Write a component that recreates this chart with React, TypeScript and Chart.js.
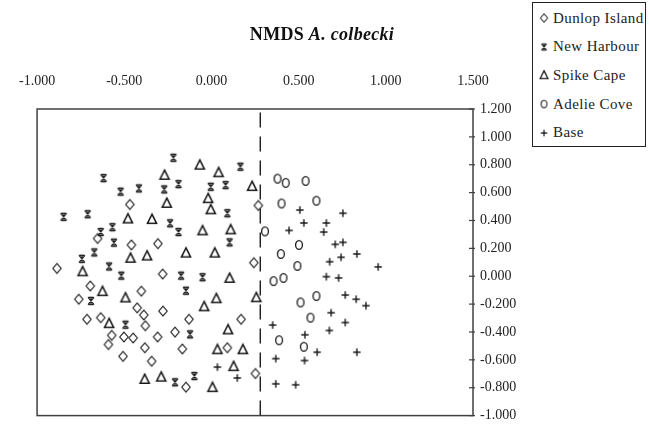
import React, { useEffect, useRef } from "react";
import { Chart, registerables } from "chart.js";

Chart.register(...registerables);

// ---- Data ----
const dunlopX = [-0.468, 0.269, -0.307, 0.243, -0.28, -0.653, -0.459, -0.886, -0.695, -0.402, -0.761, -0.426, -0.388, -0.714, -0.635, -0.379, -0.572, -0.502, -0.449, -0.591, -0.382, -0.507, -0.343, -0.278, -0.129, 0.17, -0.209, -0.309, -0.167, 0.091, 0.252, -0.146];
const dunlopY = [0.515, 0.508, 0.234, 0.097, 0.016, 0.271, 0.225, 0.056, -0.07, -0.107, -0.165, -0.227, -0.278, -0.309, -0.297, -0.355, -0.424, -0.436, -0.443, -0.49, -0.513, -0.575, -0.61, -0.25, -0.309, -0.309, -0.401, -0.436, -0.522, -0.513, -0.698, -0.796];

const harbourX = [-0.218, 0.166, -0.189, -0.004, 0.081, -0.271, 0.091, -0.237, -0.189, 0.104, -0.174, -0.051, -0.146, -0.123, -0.098, -0.209, -0.619, -0.521, -0.416, -0.848, -0.71, -0.635, -0.568, -0.559, -0.672, -0.743, -0.587, -0.517, -0.691, -0.493];
const harbourY = [0.85, 0.786, 0.661, 0.642, 0.654, 0.623, 0.452, 0.38, 0.317, 0.243, 0.004, -0.007, -0.104, -0.417, -0.716, -0.761, 0.704, 0.607, 0.63, 0.426, 0.445, 0.317, 0.352, 0.241, 0.171, 0.125, 0.07, 0.004, -0.177, -0.348];

const spikeX = [-0.067, 0.041, -0.269, 0.233, -0.256, -0.019, -0.004, -0.341, -0.479, -0.051, 0.11, -0.369, -0.464, -0.146, 0.019, 0.104, -0.739, -0.625, -0.493, 0.028, 0.257, -0.042, -0.587, 0.095, 0.034, 0.18, 0.127, -0.383, -0.288, 0.006];
const spikeY = [0.8, 0.746, 0.727, 0.647, 0.526, 0.56, 0.48, 0.41, 0.414, 0.329, 0.336, 0.148, 0.132, 0.169, 0.169, -0.012, 0.035, -0.107, -0.153, -0.158, -0.151, -0.216, -0.337, -0.382, -0.524, -0.524, -0.645, -0.737, -0.721, -0.796];

const adelieX = [0.379, 0.426, 0.54, 0.402, 0.602, 0.307, 0.502, 0.398, 0.493, 0.356, 0.413, 0.511, 0.602, 0.568, 0.388, 0.53];
const adelieY = [0.7, 0.67, 0.684, 0.522, 0.542, 0.322, 0.225, 0.16, 0.074, -0.035, -0.012, -0.188, -0.142, -0.297, -0.459, -0.506];

const baseX = [0.507, 0.754, 0.53, 0.445, 0.659, 0.644, 0.71, 0.754, 0.678, 0.743, 0.834, 0.659, 0.729, 0.767, 0.83, 0.886, 0.686, 0.767, 0.351, 0.536, 0.676, 0.606, 0.834, 0.369, 0.534, 0.369, 0.483, 0.956, 0.034, 0.148];
const baseY = [0.475, 0.452, 0.382, 0.329, 0.382, 0.317, 0.229, 0.243, 0.104, 0.136, 0.16, -0.003, -0.012, -0.135, -0.165, -0.211, -0.262, -0.332, -0.35, -0.42, -0.389, -0.545, -0.545, -0.591, -0.605, -0.772, -0.779, 0.067, -0.652, -0.73];

const dividerX = [0.28, 0.28];
const dividerY = [-1.0, 1.2];

const xTicks = [-1.0, -0.5, 0.0, 0.5, 1.0, 1.5];
const yTicks = [-1.0, -0.8, -0.6, -0.4, -0.2, 0.0, 0.2, 0.4, 0.6, 0.8, 1.0, 1.2];

const seriesNames = ["Dunlop Island", "New Harbour", "Spike Cape", "Adelie Cove", "Base"];
const seriesMarkers = ["diamond", "star", "triangle", "circle", "plus"];

// ---- Marker drawing ----
const markerCache: Record<string, HTMLCanvasElement> = {};
function marker(kind: string): HTMLCanvasElement {
  if (markerCache[kind]) return markerCache[kind];
  const c = document.createElement("canvas");
  const s = 14;
  c.width = s;
  c.height = s;
  const g = c.getContext("2d")!;
  g.strokeStyle = "#1a1a1a";
  const m = s / 2;
  g.beginPath();
  switch (kind) {
    case "diamond":
      g.lineWidth = 1.1;
      g.moveTo(m, m - 4.8);
      g.lineTo(m + 4.2, m);
      g.lineTo(m, m + 4.8);
      g.lineTo(m - 4.2, m);
      g.closePath();
      break;
    case "triangle":
      g.lineWidth = 1.6;
      g.moveTo(m, m - 4.8);
      g.lineTo(m + 4.5, m + 4.2);
      g.lineTo(m - 4.5, m + 4.2);
      g.closePath();
      break;
    case "circle":
      g.lineWidth = 1.3;
      g.ellipse(m, m, 3.4, 4.4, 0, 0, Math.PI * 2);
      break;
    case "plus":
      g.lineWidth = 1.4;
      g.moveTo(m, m - 3.7);
      g.lineTo(m, m + 3.7);
      g.moveTo(m - 3.7, m);
      g.lineTo(m + 3.7, m);
      break;
    case "star":
      g.lineWidth = 1.2;
      g.moveTo(m - 3, m - 3.6);
      g.lineTo(m + 3, m + 3.6);
      g.moveTo(m + 3, m - 3.6);
      g.lineTo(m - 3, m + 3.6);
      g.moveTo(m, m - 3.6);
      g.lineTo(m, m + 3.6);
      g.moveTo(m - 2.5, m - 3.6);
      g.lineTo(m + 2.5, m - 3.6);
      g.moveTo(m - 2.5, m + 3.6);
      g.lineTo(m + 2.5, m + 3.6);
      break;
  }
  g.stroke();
  markerCache[kind] = c;
  return c;
}

const toPts = (xs: number[], ys: number[]) => xs.map((x, i) => ({ x, y: ys[i] }));

const FONT = '"Liberation Serif", "Times New Roman", serif';

const framePlugin = {
  id: "frame",
  beforeDatasetsDraw(chart: any) {
    const { ctx, chartArea } = chart;
    const { left, top, right, bottom } = chartArea;
    const y = chart.scales.y;
    ctx.save();
    ctx.strokeStyle = "#404040";
    ctx.lineWidth = 1.5;
    ctx.strokeRect(left, top, right - left, bottom - top);
    ctx.lineWidth = 1.2;
    yTicks.forEach((v) => {
      const py = y.getPixelForValue(v);
      ctx.beginPath();
      ctx.moveTo(right - 4, py);
      ctx.lineTo(right + 2, py);
      ctx.stroke();
    });
    ctx.restore();
  },
};

function Legend() {
  return (
    <div
      style={{
        position: "absolute",
        left: 532,
        top: 2,
        width: 112,
        height: 142,
        border: "1px solid #222",
        background: "#fff",
        fontFamily: FONT,
        fontSize: 15,
        color: "#222",
        paddingTop: 1,
        boxSizing: "content-box",
      }}
    >
      {seriesNames.map((name, i) => (
        <div
          key={name}
          style={{ height: 28.6, display: "flex", alignItems: "center", paddingLeft: 5, letterSpacing: 0.4, whiteSpace: "nowrap" }}
        >
          <img src={marker(seriesMarkers[i]).toDataURL()} width={12} height={12} style={{ marginRight: 3 }} />
          <span>{name}</span>
        </div>
      ))}
    </div>
  );
}

export default function App() {
  const ref = useRef<HTMLCanvasElement | null>(null);

  useEffect(() => {
    if (!ref.current) return;
    const ds = [
      { x: dunlopX, y: dunlopY },
      { x: harbourX, y: harbourY },
      { x: spikeX, y: spikeY },
      { x: adelieX, y: adelieY },
      { x: baseX, y: baseY },
    ].map((d, i) => ({
      label: seriesNames[i],
      data: toPts(d.x, d.y),
      pointStyle: marker(seriesMarkers[i]),
      pointRadius: 4,
      showLine: false,
    }));

    const chart = new Chart(ref.current, {
      type: "scatter",
      data: {
        datasets: [
          ...ds,
          {
            label: "divider",
            data: toPts(dividerX, dividerY),
            showLine: true,
            borderColor: "#1a1a1a",
            borderWidth: 1.4,
            borderDash: [15, 9],
            pointRadius: 0,
          } as any,
        ],
      },
      options: {
        animation: false,
        responsive: false,
        devicePixelRatio: 1,
        layout: { padding: { left: 35, top: 0, right: 0, bottom: 5 } },
        plugins: {
          legend: { display: false },
          tooltip: { enabled: false },
          title: { display: false },
        },
        scales: {
          x: {
            type: "linear",
            position: "top",
            min: -1,
            max: 1.5,
            afterBuildTicks: (s: any) => {
              s.ticks = xTicks.map((v) => ({ value: v }));
            },
            afterFit: (s: any) => {
              s.height = 109;
            },
            ticks: {
              autoSkip: false,
              maxRotation: 0,
              padding: 19,
              color: "#222",
              font: { family: FONT, size: 14 },
              callback: (v: any) => Number(v).toFixed(3),
            },
            grid: { display: false, drawTicks: false },
            border: { display: false },
          },
          y: {
            type: "linear",
            position: "right",
            min: -1,
            max: 1.2,
            afterBuildTicks: (s: any) => {
              s.ticks = yTicks.map((v) => ({ value: v }));
            },
            afterFit: (s: any) => {
              s.width = 176;
            },
            ticks: {
              autoSkip: false,
              padding: 7,
              color: "#222",
              font: { family: FONT, size: 14 },
              callback: (v: any) => Number(v).toFixed(3),
            },
            grid: { display: false, drawTicks: false },
            border: { display: false },
          },
        },
      },
      plugins: [framePlugin],
    });
    return () => chart.destroy();
  }, []);

  return (
    <div style={{ position: "absolute", left: 0, top: 0, width: 649, height: 431, background: "#fff" }}>
      <canvas ref={ref} width={649} height={431} style={{ display: "block" }} />
      <div
        style={{
          position: "absolute",
          left: 322,
          top: 24,
          transform: "translateX(-50%)",
          fontFamily: FONT,
          fontWeight: "bold",
          fontSize: 18,
          lineHeight: "20px",
          color: "#111",
          whiteSpace: "nowrap",
          letterSpacing: 0.3,
        }}
      >
        NMDS <i>A. colbecki</i>
      </div>
      <Legend />
    </div>
  );
}
